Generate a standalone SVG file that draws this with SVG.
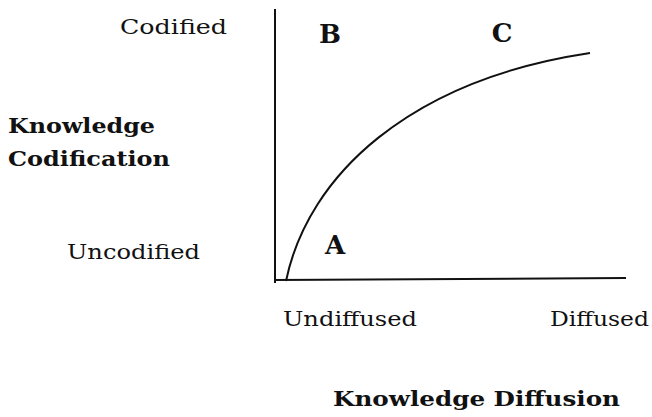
<svg xmlns="http://www.w3.org/2000/svg" width="652" height="417" viewBox="0 0 652 417">
<style>
text{font-family:"DejaVu Serif","Liberation Serif",serif;fill:#111;font-size:21px}
.b{font-weight:bold}
.l{font-weight:bold;font-size:26px}
.ln{stroke:#111;stroke-width:2;fill:none}
</style>
<rect width="652" height="417" fill="#fff"/>
<g id="axes">
<line class="ln" x1="275" y1="9" x2="275" y2="283"/>
<line class="ln" x1="274" y1="280" x2="626" y2="278"/>
</g>
<g id="connectors">
<path class="ln" stroke-width="1.6" d="M286,281 C308,175 410,80 590,53"/>
</g>
<g id="labels">
<text x="120" y="34" textLength="107" lengthAdjust="spacingAndGlyphs">Codified</text>
<text class="b" x="8" y="133" textLength="147" lengthAdjust="spacingAndGlyphs">Knowledge</text>
<text class="b" x="8" y="166" textLength="162" lengthAdjust="spacingAndGlyphs">Codification</text>
<text x="67" y="259" textLength="133" lengthAdjust="spacingAndGlyphs">Uncodified</text>
<text x="283" y="326" textLength="134" lengthAdjust="spacingAndGlyphs">Undiffused</text>
<text x="550" y="326" textLength="99" lengthAdjust="spacingAndGlyphs">Diffused</text>
<text class="b" x="333" y="406" textLength="287" lengthAdjust="spacingAndGlyphs">Knowledge Diffusion</text>
<text class="l" x="330" y="43" text-anchor="middle">B</text>
<text class="l" x="502" y="42" text-anchor="middle">C</text>
<text class="l" x="335" y="254" text-anchor="middle">A</text>
</g>
</svg>
